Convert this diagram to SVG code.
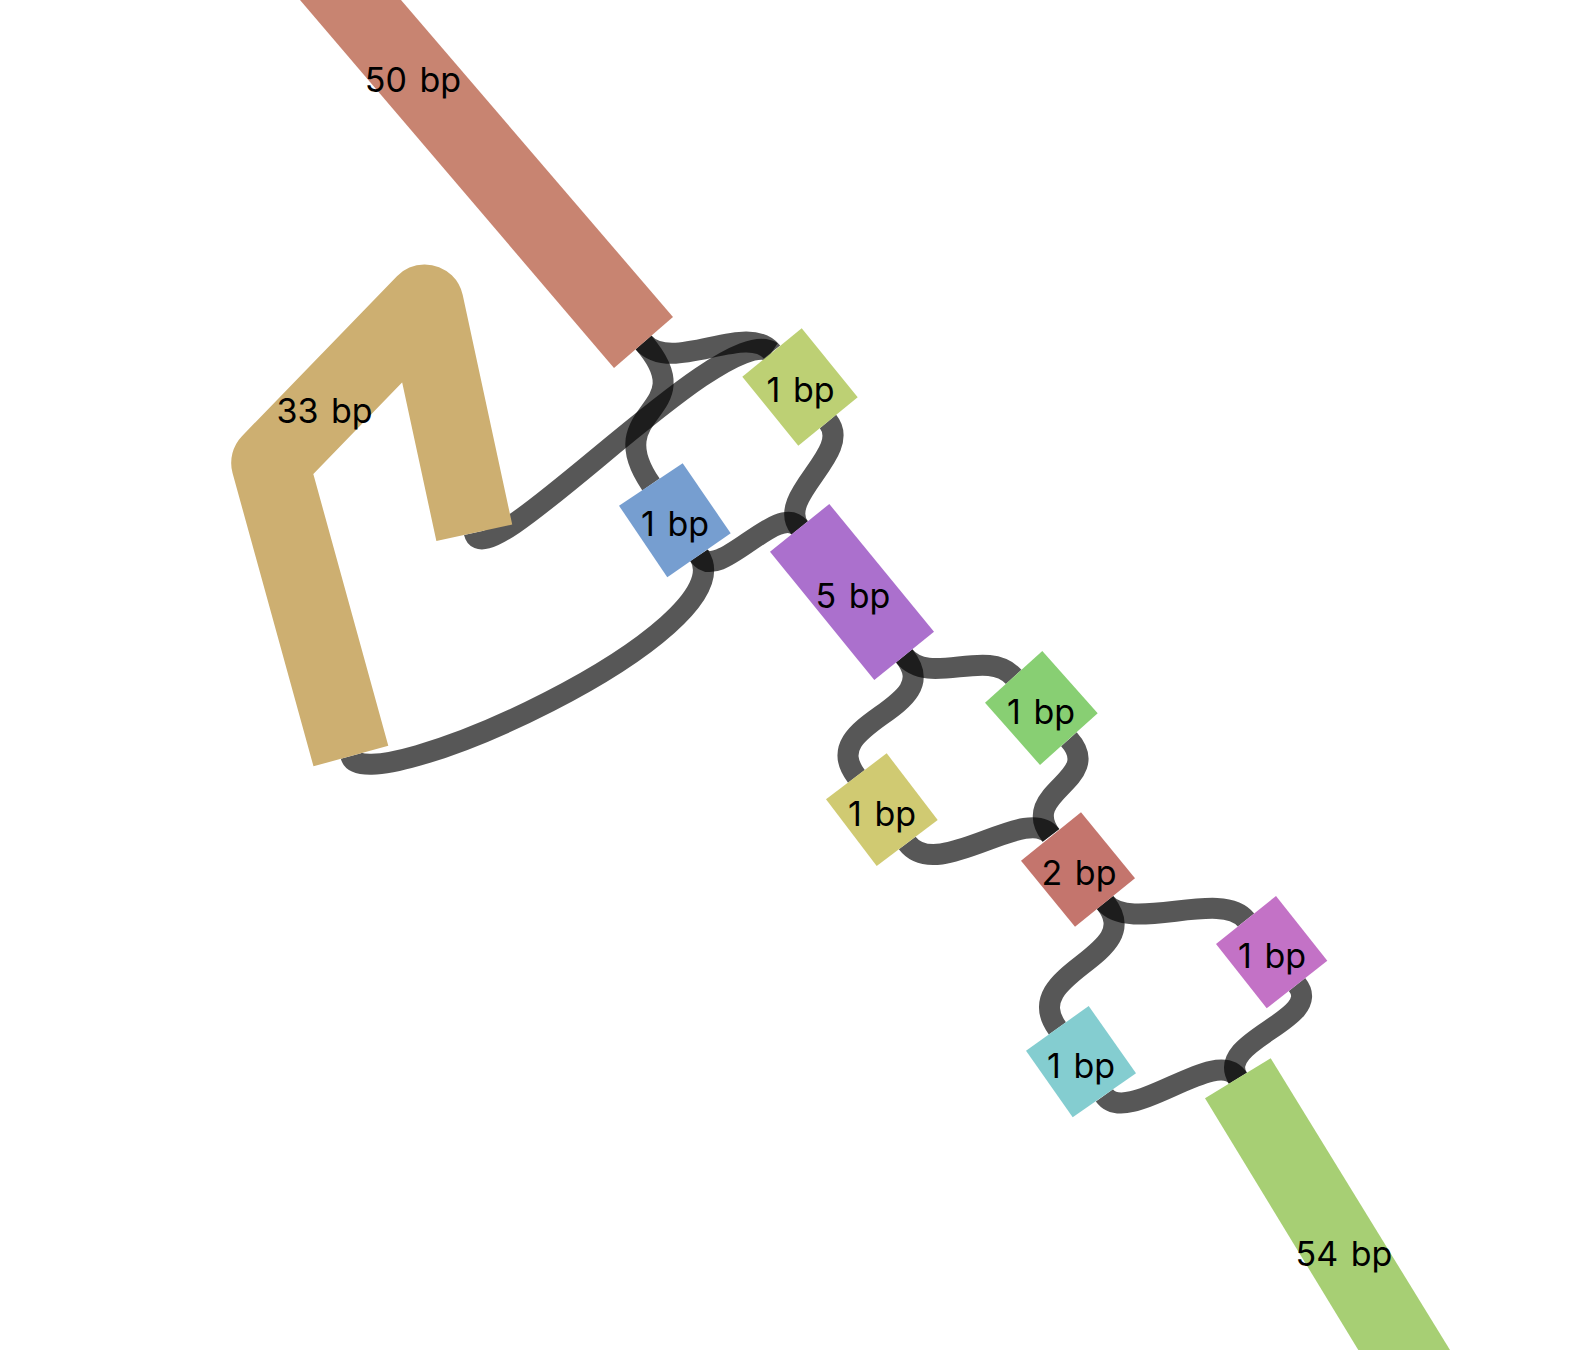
<svg xmlns="http://www.w3.org/2000/svg" width="1580" height="1350" viewBox="0 0 1580 1350">
<style>
.e{fill:none;stroke:#000;stroke-opacity:0.66;stroke-width:21}
.t{font-family:Inter,"Liberation Sans",sans-serif;font-size:34px;word-spacing:3px;fill:#000;text-anchor:middle}
</style>
<rect width="1580" height="1350" fill="#fff"/>
<g id="edges">
<path class="e" d="M643.5 342.5 C672 375 747 321 772 352"/>
<path class="e" d="M643.5 342.5 C705 414 598 407 651 484.5"/>
<path class="e" d="M474.3 532.8 C485 582 722 320 772 352"/>
<path class="e" d="M699 555.3 C748.9 630.3 364.2 804.2 350.9 756"/>
<path class="e" d="M699 555.3 C718.4 584.2 777.8 500.6 799.7 527.9"/>
<path class="e" d="M828 421.5 C853.3 452.5 774.6 496.7 799.7 527.9"/>
<path class="e" d="M904.2 655.9 C929.3 687 986.9 647.2 1013.7 676.9"/>
<path class="e" d="M904.2 655.9 C948.1 710.4 814.1 720.5 856.4 776.3"/>
<path class="e" d="M1068.9 739.2 C1105.7 780 1017.5 791.8 1051 835.4"/>
<path class="e" d="M907.2 843 C937.5 883 1026.6 803.7 1051 835.4"/>
<path class="e" d="M1105 902.5 C1130.1 933.6 1221 888.8 1246 920"/>
<path class="e" d="M1105 902.5 C1149 957 1016.7 971.4 1057.4 1028.4"/>
<path class="e" d="M1297 984.5 C1325.1 1019.6 1214.5 1039.9 1237.9 1078.3"/>
<path class="e" d="M1104.4 1095.3 C1127.6 1127.9 1217.1 1044.1 1237.9 1078.3"/>
</g>
<g id="node50">
<polygon points="300,0 401,0 673,317 614,368" fill="#C88471"/>
<text class="t" x="413" y="92">50 bp</text>
</g>
<g id="node33">
<path d="M350.9 756 L270 462.9 L424.8 303.2 L474.3 532.8" fill="none" stroke="#CDAF71" stroke-width="77.6" stroke-linejoin="round"/>
<text class="t" x="324.5" y="423">33 bp</text>
</g>
<g id="nodeA">
<polygon points="801.7,328.3 857.7,397.3 798.3,445.7 742.3,376.7" fill="#BDD074"/>
<text class="t" x="800.5" y="402">1 bp</text>
</g>
<g id="nodeB">
<polygon points="682.7,463.3 730.7,533.3 667.3,577.3 619,505.7" fill="#769ED0"/>
<text class="t" x="675" y="536">1 bp</text>
</g>
<g id="node5">
<polygon points="829.3,504 934,631.7 874.3,680 770,551.7" fill="#AB70CD"/>
<text class="t" x="853" y="608">5 bp</text>
</g>
<g id="nodeC">
<polygon points="1042.3,651 1097.7,713.3 1040,765 985,702.7" fill="#88CF73"/>
<text class="t" x="1041" y="724">1 bp</text>
</g>
<g id="nodeD">
<polygon points="886.7,753.3 937.7,820 876.7,866 826,799.3" fill="#D0CA72"/>
<text class="t" x="882" y="826">1 bp</text>
</g>
<g id="node2">
<polygon points="1081,812.3 1135,878.3 1075,926.7 1021,860.7" fill="#C4756D"/>
<text class="t" x="1079" y="885">2 bp</text>
</g>
<g id="nodeE">
<polygon points="1276,896 1327.3,960.7 1266.7,1008.3 1216,944" fill="#C372C6"/>
<text class="t" x="1272" y="968">1 bp</text>
</g>
<g id="nodeF">
<polygon points="1088.7,1006 1136,1073.3 1072.7,1117.3 1026,1050.7" fill="#84CDD0"/>
<text class="t" x="1081" y="1078">1 bp</text>
</g>
<g id="node54">
<polygon points="1270.7,1058.3 1450,1350 1358.3,1350 1205,1098.3" fill="#A7CF74"/>
<text class="t" x="1344" y="1266">54 bp</text>
</g>
</svg>
